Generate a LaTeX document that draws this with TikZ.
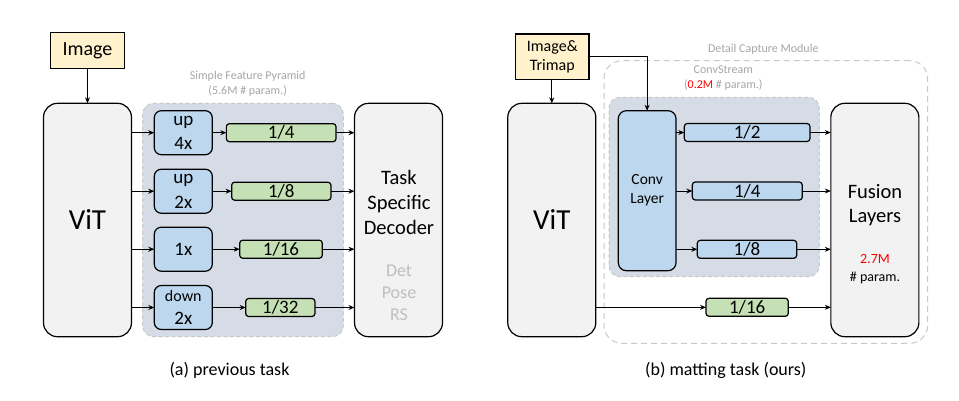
\documentclass[tikz,border=0pt]{standalone}
\usepackage{fontspec}
\setmainfont{Carlito}
\usetikzlibrary{arrows.meta}
\definecolor{yel}{HTML}{FFF2CC}
\definecolor{blu}{HTML}{BDD7EE}
\definecolor{grn}{HTML}{C5E0B4}
\definecolor{bgc}{HTML}{D6DCE5}
\definecolor{boxg}{HTML}{F2F2F2}
\definecolor{gtxt}{HTML}{A6A6A6}
\definecolor{ltxt}{HTML}{BFBFBF}
\definecolor{dsh}{HTML}{C9C9C9}
\definecolor{red1}{HTML}{FF0000}
\tikzset{
  x=1pt, y=-1pt,
  every node/.style={inner sep=0pt, outer sep=0pt, align=center},
  bigbox/.style={draw=black, line width=1.2pt, fill=boxg, rounded corners=14pt, minimum width=88pt, minimum height=233.4pt},
  inbox/.style={draw=black, line width=1.2pt, fill=yel},
  opbox/.style={draw=black, line width=1.2pt, fill=blu, rounded corners=7pt, minimum width=58pt, minimum height=44pt, font=\fontsize{19}{24.5}\selectfont},
  featbar/.style={draw=black, line width=1.2pt, rounded corners=3pt, minimum height=18pt, font=\fontsize{19}{19}\selectfont},
  pyrbg/.style={draw=dsh, fill=bgc, dash pattern=on 4pt off 2.5pt, line width=1pt, rounded corners=11pt},
  gtitle/.style={text=gtxt, font=\fontsize{12}{15}\selectfont},
  conn/.style={draw=black, line width=0.9pt, -{Stealth[length=6pt,width=5pt]}},
}
\begin{document}
\begin{tikzpicture}
\useasboundingbox[fill=white] (0,0) rectangle (959,400);

% ---------- (a) ----------
\node[pyrbg, minimum width=200.6pt, minimum height=233.4pt] (pyr) at (243,220) {};
\node[gtitle] (pyrt1) at (247.7,76) {Simple Feature Pyramid};
\node[gtitle] (pyrt2) at (247.7,91) {(5.6M \# param.)};

\node[inbox, minimum width=73.6pt, minimum height=35.6pt, font=\fontsize{20}{24}\selectfont] (img) at (87.5,50.5) {Image};
\node[bigbox, font=\fontsize{29}{30}\selectfont] (vita) at (87.5,220) {ViT};
\node[bigbox] (dec) at (398.5,220) {};
\node[font=\fontsize{20.5}{25}\selectfont] (dect) at (399,202) {Task\\Specific\\Decoder};
\node[text=ltxt, font=\fontsize{18}{22}\selectfont] (decs) at (399,292.5) {Det\\Pose\\RS};

\node[opbox] (b1) at (183.3,132.7) {up\\4x};
\node[opbox] (b2) at (183.3,191.2) {up\\2x};
\node[opbox] (b3) at (183.3,249.2) {1x};
\node[opbox, font=\fontsize{16}{23}\selectfont] (b4) at (183.3,307.5) {down\\{\fontsize{19}{23}\selectfont 2x}};

\node[featbar, fill=grn, minimum width=109.7pt] (g1) at (281.2,132.7) {1/4};
\node[featbar, fill=grn, minimum width=99.3pt] (g2) at (281.3,191.2) {1/8};
\node[featbar, fill=grn, minimum width=82.6pt] (g3) at (281,249.2) {1/16};
\node[featbar, fill=grn, minimum width=69.3pt] (g4) at (280.3,307.5) {1/32};

\draw[conn] (img.south) -- (vita.north);
\foreach \i in {1,2,3,4}{
  \draw[conn] (b\i.west -| vita.east) -- (b\i.west);
  \draw[conn] (b\i.east) -- (g\i.west);
  \draw[conn] (g\i.east) -- (g\i.east -| dec.west);
}
\node[font=\fontsize{18}{20}\selectfont] (capa) at (229.5,370) {(a) previous task};

% ---------- (b) ----------
\node[draw=dsh, dash pattern=on 6pt off 4pt, line width=1pt, rounded corners=18pt, minimum width=323.7pt, minimum height=282.6pt] (dcm) at (765.85,202) {};
\node[gtitle] (dcmt) at (763.3,49.3) {Detail Capture Module};
\node[pyrbg, minimum width=210.3pt, minimum height=179.4pt] (cs) at (714.15,187) {};
\node[gtitle] (cst1) at (723.3,70) {ConvStream};
\node[gtitle] (cst2) at (723.3,85) {(\textcolor{red1}{0.2M} \# param.)};

\node[inbox, minimum width=73.3pt, minimum height=45.3pt, font=\fontsize{16}{19}\selectfont] (imt) at (552.3,56.7) {Image\&\\Trimap};
\node[bigbox, font=\fontsize{29}{30}\selectfont] (vitb) at (551.8,220) {ViT};
\node[bigbox] (fus) at (874.85,220) {};
\node[font=\fontsize{20.5}{24}\selectfont] (fust) at (875,204.7) {Fusion\\Layers};
\node[font=\fontsize{14}{17.5}\selectfont] (fusp) at (875,269) {\textcolor{red1}{2.7M}\\\# param.};

\node[draw=black, line width=1.2pt, fill=blu, rounded corners=8pt, minimum width=57.7pt, minimum height=160pt, font=\fontsize{15.5}{19}\selectfont] (conv) at (647.15,190.7) {Conv\\Layer};

\node[featbar, fill=blu, minimum width=125.7pt] (c1) at (747.15,132.5) {1/2};
\node[featbar, fill=blu, minimum width=110pt] (c2) at (747.3,191) {1/4};
\node[featbar, fill=blu, minimum width=99.4pt] (c3) at (747,249.3) {1/8};
\node[featbar, fill=grn, minimum width=82.3pt] (c4) at (747.15,307.3) {1/16};

\draw[conn] (imt.south -| vitb.north) -- (vitb.north);
\draw[conn] (imt.east) -| (conv.north);
\foreach \i in {1,2,3}{
  \draw[conn] (c\i.west -| conv.east) -- (c\i.west);
  \draw[conn] (c\i.east) -- (c\i.east -| fus.west);
}
\draw[conn] (c4.west -| vitb.east) -- (c4.west);
\draw[conn] (c4.east) -- (c4.east -| fus.west);

\node[font=\fontsize{18}{20}\selectfont] (capb) at (725.8,370) {(b) matting task (ours)};
\end{tikzpicture}
\end{document}
